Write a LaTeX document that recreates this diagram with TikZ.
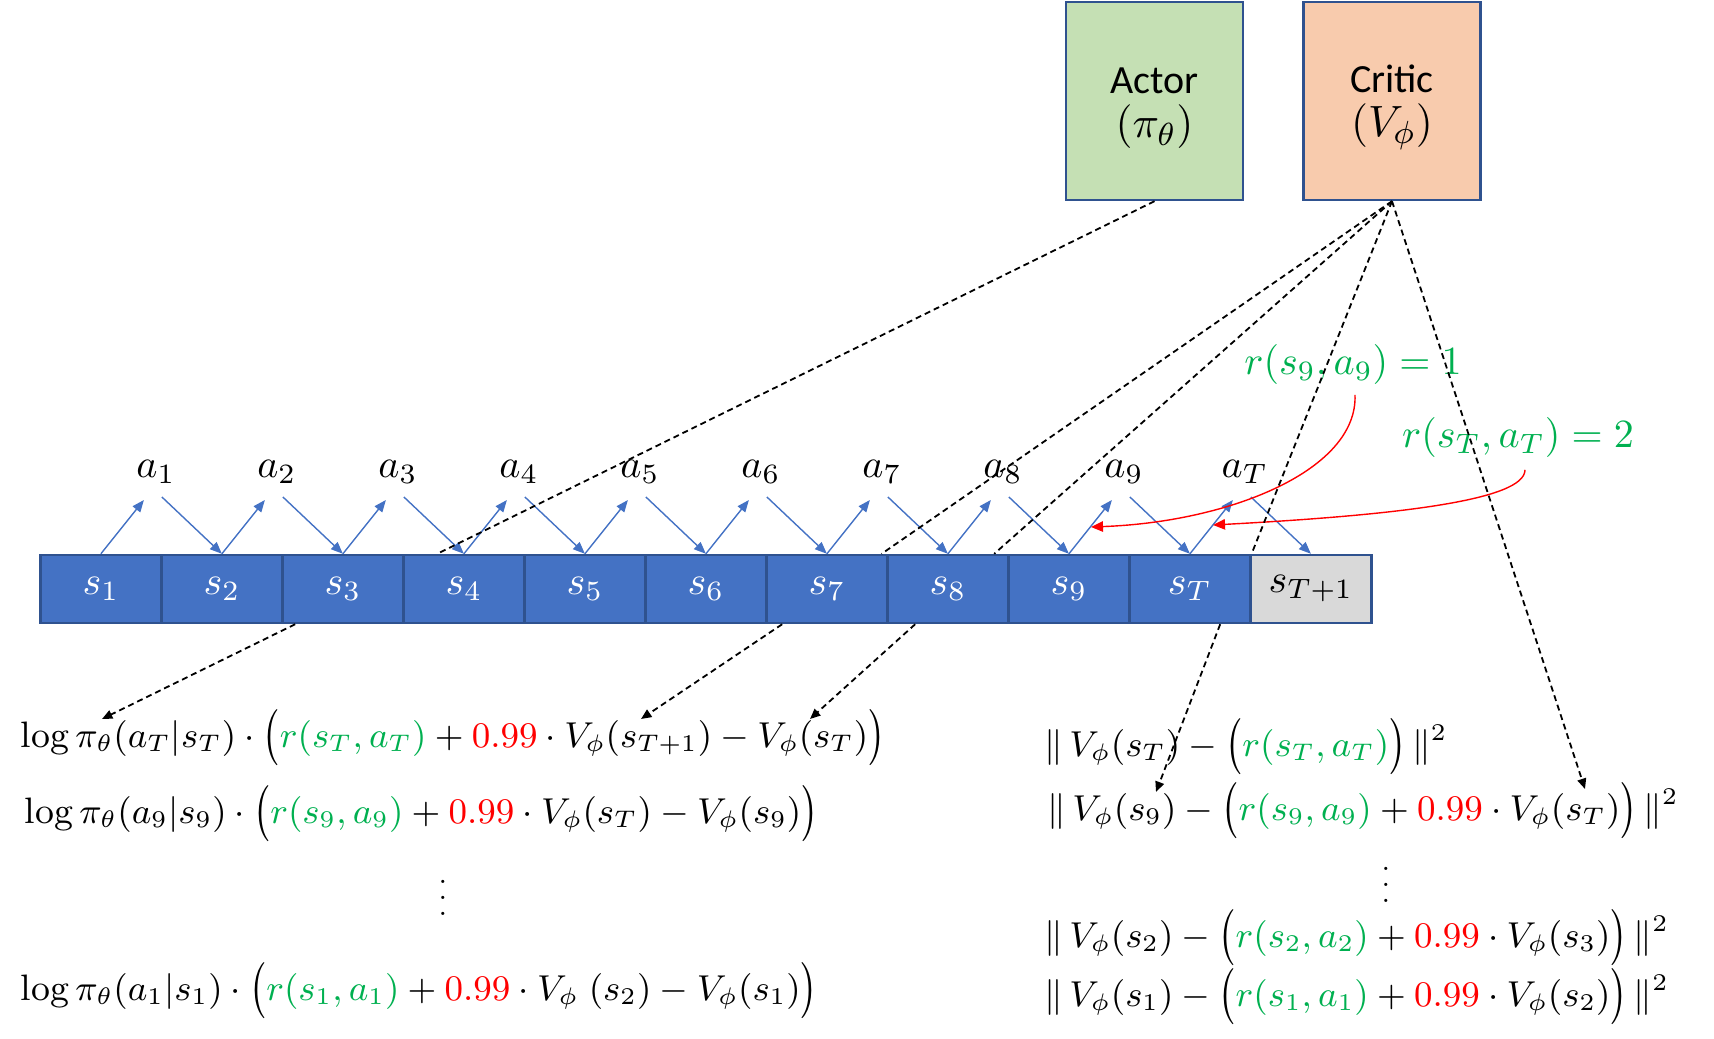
\documentclass[tikz,border=0pt]{standalone}
\usepackage{amsmath}
\usepackage{fontspec}
\newfontfamily\carlito{Carlito}
\usetikzlibrary{arrows.meta,calc}
\definecolor{boxblue}{HTML}{4472C4}
\definecolor{boxedge}{HTML}{2F528F}
\definecolor{actgreen}{HTML}{C5E0B4}
\definecolor{critorange}{HTML}{F8CBAD}
\definecolor{stgray}{HTML}{D9D9D9}
\definecolor{rgreen}{HTML}{00B050}
\definecolor{rred}{HTML}{FF0000}
\newcommand{\LP}{\mathopen{\vcenter{\hbox{\scalebox{1}[1.3]{$\bigl($}}}}}
\newcommand{\RP}{\mathclose{\vcenter{\hbox{\scalebox{1}[1.3]{$\bigr)$}}}}}
\begin{document}
\begin{tikzpicture}[x=0.25pt,y=-0.25pt,
  model/.style={draw=boxedge, line width=0.6pt, minimum width=44.25pt, minimum height=49.5pt, inner sep=0pt, align=center, font=\carlito\fontsize{10}{11.8}\selectfont},
  state/.style={draw=boxedge, line width=0.6pt, fill=boxblue, text=white, minimum width=30.25pt, minimum height=17pt, inner sep=0pt, font=\fontsize{10}{12}\selectfont},
  act/.style={inner sep=0pt, font=\fontsize{10}{12}\selectfont},
  bluearrow/.style={draw=boxblue, line width=0.35pt, -{Triangle[length=3pt,width=2.4pt]}},
  dashline/.style={draw=black, line width=0.45pt, dash pattern=on 1.5pt off 1pt},
  dasharrow/.style={dashline, -{Triangle[length=2.6pt,width=2.2pt]}},
  redarrow/.style={draw=rred, line width=0.35pt, -{Triangle[length=3pt,width=2.6pt]}},
  rlab/.style={inner sep=0pt, text=rgreen, font=\fontsize{10}{12}\selectfont},
  formula/.style={inner sep=0pt, anchor=west, font=\fontsize{9.2}{11}\selectfont},
  dotsnode/.style={inner sep=0pt, font=\fontsize{7}{8}\selectfont}]
\useasboundingbox (0,0) rectangle (1714,1039);

% Actor / Critic
\node[model, fill=actgreen] (actor) at (1154.5,101) {\rule{0pt}{10.2pt}Actor\\[-0.8pt]{\fontsize{11}{12}\selectfont$(\pi_\theta)$}};
\node[model, fill=critorange] (critic) at (1392,101) {\rule{0pt}{10.2pt}Critic\\[-0.8pt]{\fontsize{11}{12}\selectfont$(V_\phi)$}};

% states
\foreach \n/\t [count=\k from 0] in {s1/s_1,s2/s_2,s3/s_3,s4/s_4,s5/s_5,s6/s_6,s7/s_7,s8/s_8,s9/s_9,sT/s_T}
  \node[state] (\n) at (100.9+121*\k,589) {$\t$};
\node[state, fill=stgray, text=black] (sT1) at (1310.9,589) {$s_{T+1}$};

% actions
\foreach \n/\t [count=\k from 0] in {a1/a_1,a2/a_2,a3/a_3,a4/a_4,a5/a_5,a6/a_6,a7/a_7,a8/a_8,a9/a_9,aT/a_T}
  \node[act] (\n) at (155.9+121*\k,472) {$\t$};

\foreach \s/\a/\nx in {s1/a1/s2,s2/a2/s3,s3/a3/s4,s4/a4/s5,s5/a5/s6,s6/a6/s7,s7/a7/s8,s8/a8/s9,s9/a9/sT,sT/aT/sT1}{
  \draw[bluearrow] (\s.north) -- ($(\a.center)+(-12,28)$);
  \draw[bluearrow] ($(\a.center)+(6,25)$) -- (\nx.north);
}

% rewards
\node[rlab] (r9) at (1353,364) {$r(s_9,a_9)=1$};
\node[rlab] (rT) at (1518,437) {$r(s_T,a_T)=2$};
\draw[redarrow] ($(r9.south)+(2,10)$) .. controls (1358,470) and (1230,522) .. (1091,527);
\draw[redarrow] ($(rT.south)+(7,12)$) .. controls (1525,500) and (1400,515) .. (1213,525);

% formulas left
\node[formula] (L1) at (20,738) {$\log\pi_\theta(a_T|s_T)\cdot\LP\textcolor{rgreen}{r(s_T,a_T)}+\textcolor{rred}{0.99}\cdot V_\phi(s_{T+1})-V_\phi(s_T)\RP$};
\node[formula] (L2) at (24,814) {$\log\pi_\theta(a_9|s_9)\cdot\LP\textcolor{rgreen}{r(s_9,a_9)}+\textcolor{rred}{0.99}\cdot V_\phi(s_T)-V_\phi(s_9)\RP$};
\node[dotsnode] (dL) at (443,886) {$\vdots$};
\node[formula] (L3) at (20,991) {$\log\pi_\theta(a_1|s_1)\cdot\LP\textcolor{rgreen}{r(s_1,a_1)}+\textcolor{rred}{0.99}\cdot V_\phi\;(s_2)-V_\phi(s_1)\RP$};

% formulas right
\node[formula] (R1) at (1044,747) {$\|\,V_\phi(s_T)-\LP\textcolor{rgreen}{r(s_T,a_T)}\RP\,\|^2$};
\node[formula] (R2) at (1047,811) {$\|\,V_\phi(s_9)-\LP\textcolor{rgreen}{r(s_9,a_9)}+\textcolor{rred}{0.99}\cdot V_\phi(s_T)\RP\,\|^2$};
\node[dotsnode] (dR) at (1386,873) {$\vdots$};
\node[formula] (R3) at (1044,938) {$\|\,V_\phi(s_2)-\LP\textcolor{rgreen}{r(s_2,a_2)}+\textcolor{rred}{0.99}\cdot V_\phi(s_3)\RP\,\|^2$};
\node[formula] (R4) at (1044,997) {$\|\,V_\phi(s_1)-\LP\textcolor{rgreen}{r(s_1,a_1)}+\textcolor{rred}{0.99}\cdot V_\phi(s_2)\RP\,\|^2$};

% arrow targets
\coordinate (tL1a) at (102,719);
\coordinate (tL1b) at (641,719);
\coordinate (tL1c) at (810,719);
\coordinate (tR2a) at (1156,792);
\coordinate (tR2b) at (1585,789);

% dashed connectors
\draw[dashline] (actor.south) -- ($(s4.north west)+(35,0)$);
\draw[dashline] (critic.south) -- ($(s7.north east)+(-7,0)$);
\draw[dashline] (critic.south) -- ($(s8.north west)+(108,0)$);
\draw[dashline] (critic.south) -- (sT.north east);
\draw[dasharrow] (critic.south) -- (tR2b);
\draw[dasharrow] ($(s3.south west)+(14,0)$) -- (tL1a);
\draw[dasharrow] ($(s7.south west)+(17,0)$) -- (tL1b);
\draw[dasharrow] ($(s8.south west)+(29,0)$) -- (tL1c);
\draw[dasharrow] ($(sT.south west)+(92,0)$) -- (tR2a);
\end{tikzpicture}
\end{document}
